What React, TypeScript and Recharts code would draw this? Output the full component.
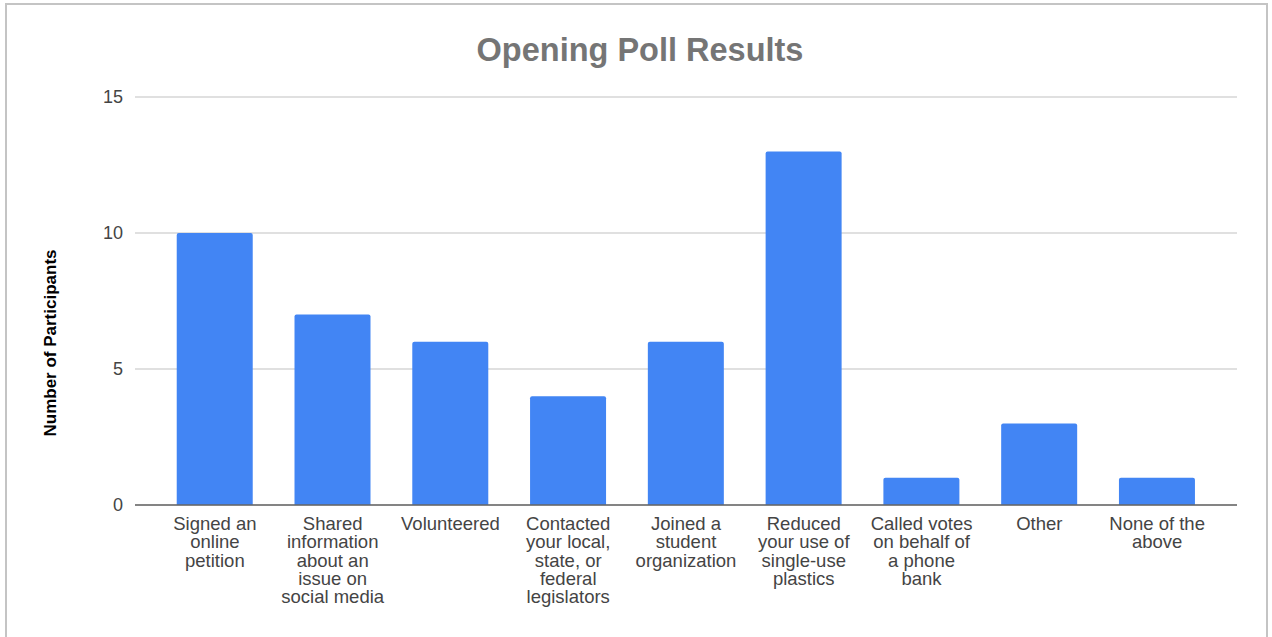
import { Bar, BarChart, CartesianGrid, XAxis, YAxis } from 'recharts';

const CATEGORIES = [
  'Signed an\nonline\npetition',
  'Shared\ninformation\nabout an\nissue on\nsocial media',
  'Volunteered',
  'Contacted\nyour local,\nstate, or\nfederal\nlegislators',
  'Joined a\nstudent\norganization',
  'Reduced\nyour use of\nsingle-use\nplastics',
  'Called votes\non behalf of\na phone\nbank',
  'Other',
  'None of the\nabove',
];
const PARTICIPANTS = [10, 7, 6, 4, 6, 13, 1, 3, 1];
const Y_TICKS = [0, 5, 10, 15];

const data = CATEGORIES.map((name, i) => ({ name, value: PARTICIPANTS[i] }));

const FONT = '"Liberation Sans", Arial, sans-serif';

const CategoryTick = (props: any) => {
  const { x, y, payload } = props;
  const lines = String(payload.value).split('\n');
  return (
    <text
      x={x}
      y={y + 25}
      textAnchor="middle"
      fill="#444"
      fontSize={18.5}
      fontFamily={FONT}
    >
      {lines.map((line, i) => (
        <tspan key={i} x={x} dy={i === 0 ? 0 : 18.3}>
          {line}
        </tspan>
      ))}
    </text>
  );
};

export default function App() {
  return (
    <div
      style={{
        position: 'absolute',
        left: 0,
        top: 0,
        width: 1272,
        height: 637,
        background: '#fff',
        overflow: 'hidden',
        fontFamily: FONT,
      }}
    >
      <div
        style={{
          position: 'absolute',
          left: 5,
          top: 3,
          width: 1263,
          height: 700,
          border: '2px solid #c4c4c4',
          boxSizing: 'border-box',
        }}
      />
      <BarChart
        width={1272}
        height={637}
        data={data}
        margin={{ top: 97, right: 35, bottom: 102, left: 75 }}
        barCategoryGap="17.6%"
      >
        <CartesianGrid vertical={false} stroke="#d6d6d6" strokeWidth={1.5} />
        <XAxis
          dataKey="name"
          interval={0}
          tickSize={0}
          tickMargin={0}
          tick={<CategoryTick />}
          padding={{ left: 21, right: 21 }}
          axisLine={{ stroke: '#666', strokeWidth: 1.5 }}
          tickLine={false}
        />
        <YAxis
          width={60}
          domain={[0, 15]}
          ticks={Y_TICKS}
          tickSize={0}
          tickMargin={12}
          axisLine={false}
          tickLine={false}
          tick={{ fill: '#444', fontSize: 18, fontFamily: FONT }}
        />
        <Bar
          dataKey="value"
          fill="#4285f4"
          radius={[2, 2, 0, 0]}
          isAnimationActive={false}
        />
      </BarChart>
      <svg
        width={1272}
        height={637}
        style={{ position: 'absolute', left: 0, top: 0, pointerEvents: 'none' }}
      >
        <text
          x={640}
          y={61}
          textAnchor="middle"
          fill="#757575"
          fontSize={32.5}
          fontWeight="bold"
          fontFamily={FONT}
        >
          Opening Poll Results
        </text>
        <text
          x={56}
          y={343}
          textAnchor="middle"
          fill="#000"
          fontSize={17}
          fontWeight="bold"
          fontFamily={FONT}
          transform="rotate(-90 56 343)"
        >
          Number of Participants
        </text>
      </svg>
    </div>
  );
}
